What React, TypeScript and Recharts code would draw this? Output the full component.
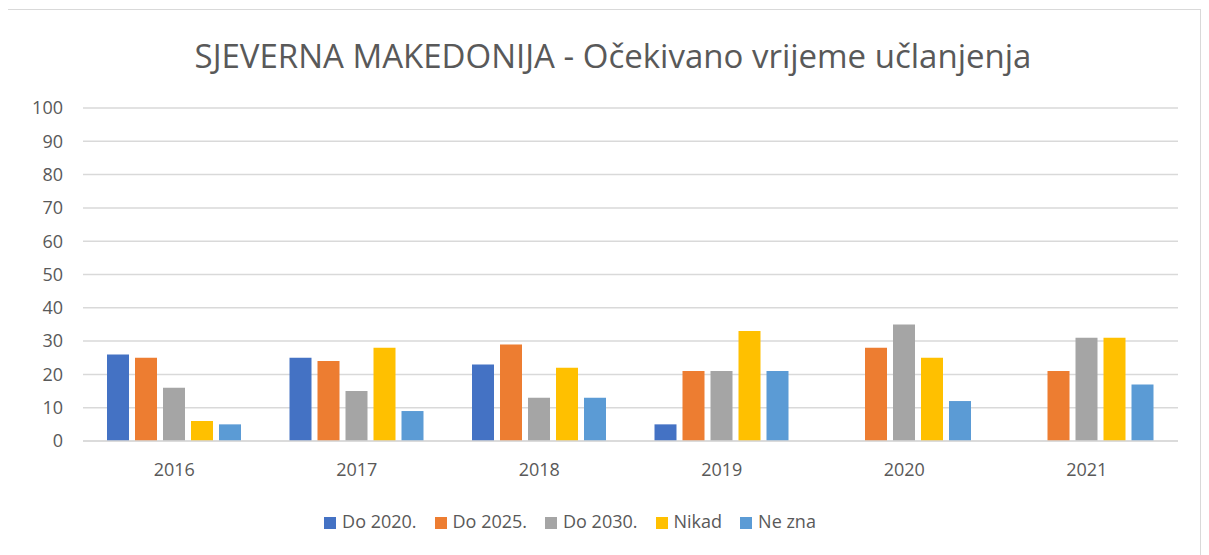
import React from 'react';
import { BarChart, Bar, XAxis, YAxis, CartesianGrid, Legend } from 'recharts';

const years = ['2016', '2017', '2018', '2019', '2020', '2021'];
const do2020 = [26, 25, 23, 5, null, null];
const do2025 = [25, 24, 29, 21, 28, 21];
const do2030 = [16, 15, 13, 21, 35, 31];
const nikad = [6, 28, 22, 33, 25, 31];
const neZna = [5, 9, 13, 21, 12, 17];
const yTicks = [0, 10, 20, 30, 40, 50, 60, 70, 80, 90, 100];

const series = [
    { key: 'do2020', name: 'Do 2020.', color: '#4472C4' },
    { key: 'do2025', name: 'Do 2025.', color: '#ED7D31' },
    { key: 'do2030', name: 'Do 2030.', color: '#A5A5A5' },
    { key: 'nikad', name: 'Nikad', color: '#FFC000' },
    { key: 'neZna', name: 'Ne zna', color: '#5B9BD5' },
];

const data = years.map((year, i) => ({
    year,
    do2020: do2020[i],
    do2025: do2025[i],
    do2030: do2030[i],
    nikad: nikad[i],
    neZna: neZna[i],
}));

const font = '"Open Sans", sans-serif';
const textColor = '#595959';

export default function App() {
    return (
        <div
            style={{
                position: 'relative',
                marginLeft: -1,
                marginTop: 1,
                width: 1192,
                height: 560,
                border: '1px solid #D9D9D9',
                fontFamily: font,
                background: '#fff',
            }}
        >
            <div
                style={{
                    position: 'absolute',
                    left: 0,
                    width: 1210,
                    top: 24,
                    textAlign: 'center',
                    fontSize: 33,
                    color: textColor,
                    lineHeight: '44px',
                }}
            >
                SJEVERNA MAKEDONIJA - Očekivano vrijeme učlanjenja
            </div>
            <BarChart
                width={1192}
                height={560}
                data={data}
                margin={{ top: 98, right: 22, left: 0, bottom: 75 }}
                barSize={22}
                barGap={6}
            >
                <CartesianGrid vertical={false} stroke="#D9D9D9" strokeWidth={1.5} />
                <YAxis
                    domain={[0, 100]}
                    ticks={yTicks}
                    width={75}
                    axisLine={false}
                    tickLine={false}
                    tick={{ fontSize: 18, fill: textColor, fontFamily: font }}
                    tickMargin={14}
                />
                <XAxis
                    dataKey="year"
                    height={30}
                    axisLine={{ stroke: '#D9D9D9', strokeWidth: 1.5 }}
                    tickLine={false}
                    tick={{ fontSize: 18, fill: textColor, fontFamily: font }}
                    tickMargin={16}
                />
                <Legend
                    verticalAlign="bottom"
                    iconType="square"
                    iconSize={12}
                    itemSorter={null}
                    wrapperStyle={{ top: 499, left: -14, fontSize: 18, fontFamily: font }}
                    formatter={(value) => (
                        <span style={{ color: textColor, marginLeft: 2, marginRight: 8 }}>{value}</span>
                    )}
                />
                {series.map((s) => (
                    <Bar key={s.key} dataKey={s.key} name={s.name} fill={s.color} isAnimationActive={false} />
                ))}
            </BarChart>
        </div>
    );
}
